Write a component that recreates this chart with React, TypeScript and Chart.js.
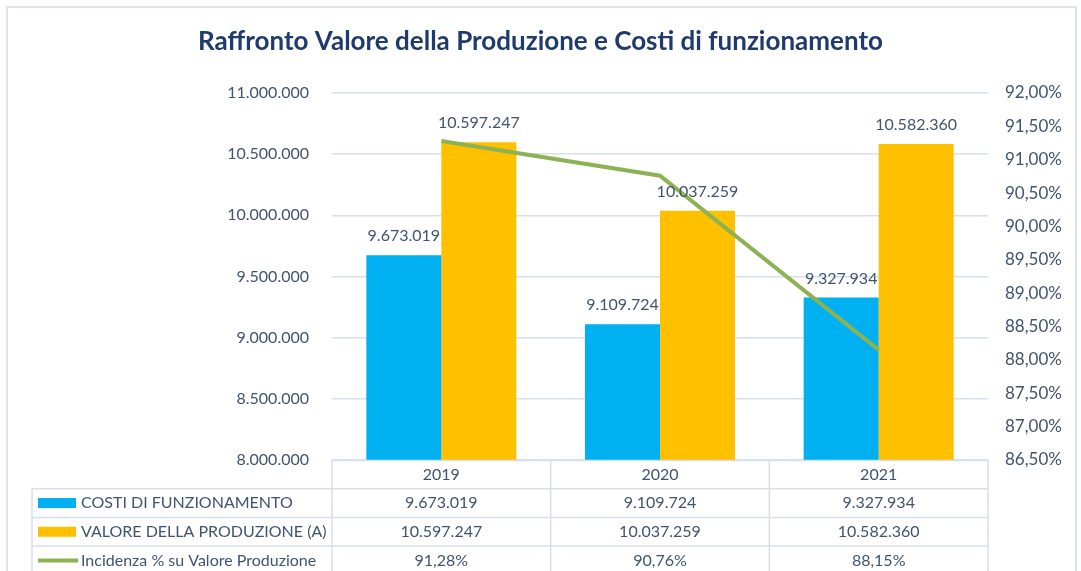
import React, { useEffect, useRef } from "react";
import { Chart, registerables } from "chart.js";

Chart.register(...registerables);

const categories = ["2019", "2020", "2021"];
const costi = [9673019, 9109724, 9327934];
const valore = [10597247, 10037259, 10582360];
const incidenza = [91.28, 90.76, 88.15];
const seriesNames = [
  "COSTI DI FUNZIONAMENTO",
  "VALORE DELLA PRODUZIONE (A)",
  "Incidenza % su Valore Produzione",
];
const titleText = "Raffronto Valore della Produzione e Costi di funzionamento";

const BLUE = "#00B0F0";
const ORANGE = "#FFC000";
const GREEN = "#8DB253";
const TEXT = "#41536F";
const GRID = "#D6E0EC";
const FONT = "Lato";

const fmtInt = (v: number) =>
  Math.round(v)
    .toString()
    .replace(/\B(?=(\d{3})+(?!\d))/g, ".");
const fmtPct = (v: number) => v.toFixed(2).replace(".", ",") + "%";

const tablePlugin = {
  id: "tablePlugin",
  afterDraw(chart: any) {
    const ctx = chart.ctx;
    const area = chart.chartArea;
    const x = chart.scales.x;
    const n = categories.length;
    const colW = (area.right - area.left) / n;
    const top = area.bottom;
    const rowH = 28.7;
    const bottom = chart.height + 10;
    const legendLeft = 32;
    ctx.save();
    ctx.strokeStyle = GRID;
    ctx.lineWidth = 1.5;
    ctx.beginPath();
    ctx.moveTo(area.left, top + 0.5);
    ctx.lineTo(area.right, top + 0.5);
    for (let r = 1; r <= 3; r++) {
      const y = top + rowH * r;
      ctx.moveTo(legendLeft, y);
      ctx.lineTo(area.right, y);
    }
    for (let c = 0; c <= n; c++) {
      const xx = area.left + colW * c;
      ctx.moveTo(xx, top);
      ctx.lineTo(xx, bottom);
    }
    ctx.moveTo(legendLeft, top + rowH);
    ctx.lineTo(legendLeft, bottom);
    ctx.stroke();

    const rows = [
      costi.map(fmtInt),
      valore.map(fmtInt),
      incidenza.map(fmtPct),
    ];
    ctx.font = `16px ${FONT}`;
    ctx.fillStyle = TEXT;
    ctx.textBaseline = "middle";
    for (let r = 0; r < 3; r++) {
      const yc = top + rowH * (r + 1) + rowH / 2;
      ctx.textAlign = "center";
      for (let c = 0; c < n; c++) {
        ctx.fillText(rows[r][c], x.getPixelForValue(c), yc);
      }
      if (r < 2) {
        ctx.fillStyle = r === 0 ? BLUE : ORANGE;
        ctx.fillRect(38, yc - 5, 38, 10);
      } else {
        ctx.strokeStyle = GREEN;
        ctx.lineWidth = 4;
        ctx.beginPath();
        ctx.moveTo(38, yc);
        ctx.lineTo(78, yc);
        ctx.stroke();
      }
      ctx.fillStyle = TEXT;
      ctx.textAlign = "left";
      ctx.fillText(seriesNames[r], 81, yc);
    }
    ctx.restore();
  },
};

const labelPlugin = {
  id: "labelPlugin",
  afterDatasetsDraw(chart: any) {
    const ctx = chart.ctx;
    ctx.save();
    ctx.font = `16px ${FONT}`;
    ctx.fillStyle = TEXT;
    ctx.textAlign = "center";
    ctx.textBaseline = "middle";
    [0, 1].forEach((di) => {
      const meta = chart.getDatasetMeta(di);
      const data = chart.data.datasets[di].data as number[];
      meta.data.forEach((el: any, i: number) => {
        ctx.fillText(fmtInt(data[i]), el.x, el.y - 19);
      });
    });
    ctx.restore();
  },
};

export default function App() {
  const ref = useRef<HTMLCanvasElement>(null);
  useEffect(() => {
    document.body.style.margin = "0";
    const chart = new Chart(ref.current!, {
      type: "bar",
      data: {
        labels: categories,
        datasets: [
          {
            type: "bar",
            label: seriesNames[0],
            data: costi,
            backgroundColor: BLUE,
            yAxisID: "y",
            order: 2,
            categoryPercentage: 0.686,
            barPercentage: 1,
          },
          {
            type: "bar",
            label: seriesNames[1],
            data: valore,
            backgroundColor: ORANGE,
            yAxisID: "y",
            order: 2,
            categoryPercentage: 0.686,
            barPercentage: 1,
          },
          {
            type: "line",
            label: seriesNames[2],
            data: incidenza,
            borderColor: GREEN,
            borderWidth: 4,
            pointRadius: 0,
            yAxisID: "y1",
            order: 0,
          } as any,
        ],
      },
      options: {
        responsive: false,
        animation: false,
        layout: { padding: 0 },
        plugins: {
          legend: { display: false },
          tooltip: { enabled: false },
          title: {
            display: true,
            text: titleText,
            color: "#1F3B6E",
            font: { family: FONT, size: 26, weight: "bold" },
            padding: { top: 26, bottom: 35.8 },
          },
        },
        scales: {
          x: {
            grid: { display: false, drawTicks: false },
            border: { display: false },
            ticks: {
              color: TEXT,
              font: { family: FONT, size: 16 },
              padding: 5,
            },
            afterFit: (s: any) => {
              s.height = 111;
            },
          },
          y: {
            position: "left",
            min: 8000000,
            max: 11000000,
            grid: { color: GRID, lineWidth: 1.5, drawTicks: false },
            border: { display: false },
            ticks: {
              stepSize: 500000,
              color: TEXT,
              font: { family: FONT, size: 16 },
              padding: 23,
              callback: (v: any) => fmtInt(Number(v)),
            },
            afterFit: (s: any) => {
              s.width = 332;
            },
          },
          y1: {
            position: "right",
            min: 86.5,
            max: 92,
            grid: { display: false, drawTicks: false },
            border: { display: false },
            ticks: {
              stepSize: 0.5,
              color: TEXT,
              font: { family: FONT, size: 17 },
              padding: 17,
              callback: (v: any) => fmtPct(Number(v)),
            },
            afterFit: (s: any) => {
              s.width = 93;
            },
          },
        },
      },
      plugins: [tablePlugin, labelPlugin],
    });
    return () => chart.destroy();
  }, []);
  return (
    <div style={{ position: "relative", width: 1081, height: 571 }}>
      <div
        style={{
          position: "absolute",
          left: 6,
          top: 6,
          width: 1071,
          height: 580,
          border: "2px solid #DCE4F0",
          boxSizing: "border-box",
          pointerEvents: "none",
        }}
      />
      <canvas ref={ref} width={1081} height={571} style={{ display: "block" }} />
    </div>
  );
}
